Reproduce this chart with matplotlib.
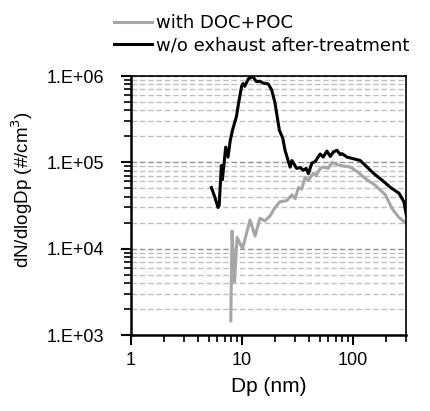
import matplotlib
matplotlib.use("Agg")
import matplotlib.pyplot as plt
from matplotlib.ticker import LogLocator, FixedLocator, NullFormatter

plt.rcParams['font.family'] = ['Liberation Sans', 'DejaVu Sans']

# w/o exhaust after-treatment (black)
dp_raw = [5.30, 5.67, 6.08, 6.23, 6.52, 6.65, 6.84, 7.13, 7.48, 7.84, 8.2, 8.91,
          9.35, 9.9, 10.2, 10.6, 11.4, 11.9, 12.4, 13.5, 14.5, 15.4, 17.2, 18.5,
          19.8, 21.7, 23.3, 24.4, 27.1, 28.1, 31.1, 33.3, 35.7, 37.8, 39.6, 42.6,
          45.6, 50.6, 53.8, 58.2, 62.3, 66.7, 71.6, 76.7, 79.5, 88.2, 101, 116,
          134, 154, 183, 218, 259, 287, 303]
dn_raw = [5.1e4, 4.0e4, 3.0e4, 3.2e4, 9.2e4, 6.3e4, 8.9e4, 1.5e5, 1.15e5, 1.8e5,
          2.35e5, 3.4e5, 5.0e5, 7.5e5, 8.2e5, 7.6e5, 9.3e5, 9.5e5, 1.0e6, 8.6e5,
          8.7e5, 8.3e5, 8.1e5, 6.9e5, 4.9e5, 2.35e5, 1.9e5, 1.38e5, 8.8e4, 1.05e5,
          8.5e4, 8.7e4, 8.1e4, 8.5e4, 7.4e4, 9.8e4, 1.02e5, 1.25e5, 1.15e5, 1.35e5,
          1.17e5, 1.32e5, 1.38e5, 1.23e5, 1.26e5, 1.15e5, 1.1e5, 1.05e5, 8.8e4,
          7.4e4, 6.2e4, 5.1e4, 4.4e4, 3.5e4, 2.4e4]

# with DOC+POC (grey)
dp_doc = [7.92, 8.13, 8.34, 8.55, 9.03, 10.1, 11.8, 13.1, 14.5, 16.1, 17.9, 19.8,
          22.0, 25.3, 28.1, 30.1, 32.2, 34.5, 37.0, 39.6, 44.0, 46.5, 50.6, 54.2,
          59.7, 64.6, 70.6, 76.7, 94.6, 109, 129, 159, 196, 225, 259, 303]
dn_doc = [1.46e3, 1.6e4, 8e3, 4.1e3, 1.35e4, 1.0e4, 2.15e4, 1.4e4, 2.25e4, 2.1e4,
          2.4e4, 3.0e4, 3.5e4, 3.6e4, 4.2e4, 3.8e4, 5.1e4, 4.9e4, 6.7e4, 6.2e4,
          7.5e4, 7.0e4, 8.5e4, 8.8e4, 8.5e4, 1.0e5, 9.5e4, 9.2e4, 8.8e4, 7.8e4,
          6.5e4, 5.4e4, 4.2e4, 2.9e4, 2.3e4, 1.95e4]

y_ticks = [1e3, 1e4, 1e5, 1e6]
y_labels = ["1.E+03", "1.E+04", "1.E+05", "1.E+06"]
x_ticks = [1, 10, 100]
x_labels = ["1", "10", "100"]

fig = plt.figure(figsize=(4.3, 4.11), dpi=100)
ax = fig.add_axes([131 / 430, 1 - 335 / 411, 275 / 430, 259 / 411])

ax.plot(dp_doc, dn_doc, color='#a6a6a6', lw=2.2, label='with DOC+POC')
ax.plot(dp_raw, dn_raw, color='black', lw=2.2, label='w/o exhaust after-treatment')

ax.set_xscale('log')
ax.set_yscale('log')
ax.set_xlim(1, 300)
ax.set_ylim(1e3, 1e6)

ax.set_xticks(x_ticks)
ax.set_xticklabels(x_labels)
ax.set_yticks(y_ticks)
ax.set_yticklabels(y_labels)
ax.xaxis.set_minor_locator(FixedLocator([2, 3, 4, 5, 6, 7, 8, 9, 20, 30, 40, 50,
                                         60, 70, 80, 90, 200, 300]))
ax.yaxis.set_minor_locator(LogLocator(base=10, subs=range(2, 10)))
ax.xaxis.set_minor_formatter(NullFormatter())
ax.yaxis.set_minor_formatter(NullFormatter())

ax.tick_params(which='major', direction='out', length=7, width=1.5,
               labelsize=13, pad=5)
ax.tick_params(axis='y', which='major', pad=12)
ax.tick_params(which='minor', direction='out', length=5, width=1.2)

ax.grid(False, axis='x', which='both')
ax.grid(True, axis='y', which='major', color='#909090', ls=(0, (4, 2)), lw=1)
ax.grid(True, axis='y', which='minor', color='#c0c0c0', ls=(0, (4, 2)), lw=1)

for s in ['left', 'bottom']:
    ax.spines[s].set_linewidth(1.8)
for s in ['top', 'right']:
    ax.spines[s].set_linewidth(1.2)

ax.set_xlabel('Dp (nm)', fontsize=15, labelpad=6)
ax.set_ylabel('dN/dlogDp (#/cm$^3$)', fontsize=13.5)
ax.yaxis.set_label_coords(-0.35, 0.56)

ax.legend(loc='upper left', bbox_to_anchor=(114 / 430, 1 - 14 / 411),
          bbox_transform=fig.transFigure, frameon=False,
          prop={'family': 'DejaVu Sans', 'size': 13},
          handlelength=2.1, handletextpad=0.2, labelspacing=0.25,
          borderpad=0, borderaxespad=0)

fig.savefig('out.png', dpi=100)
